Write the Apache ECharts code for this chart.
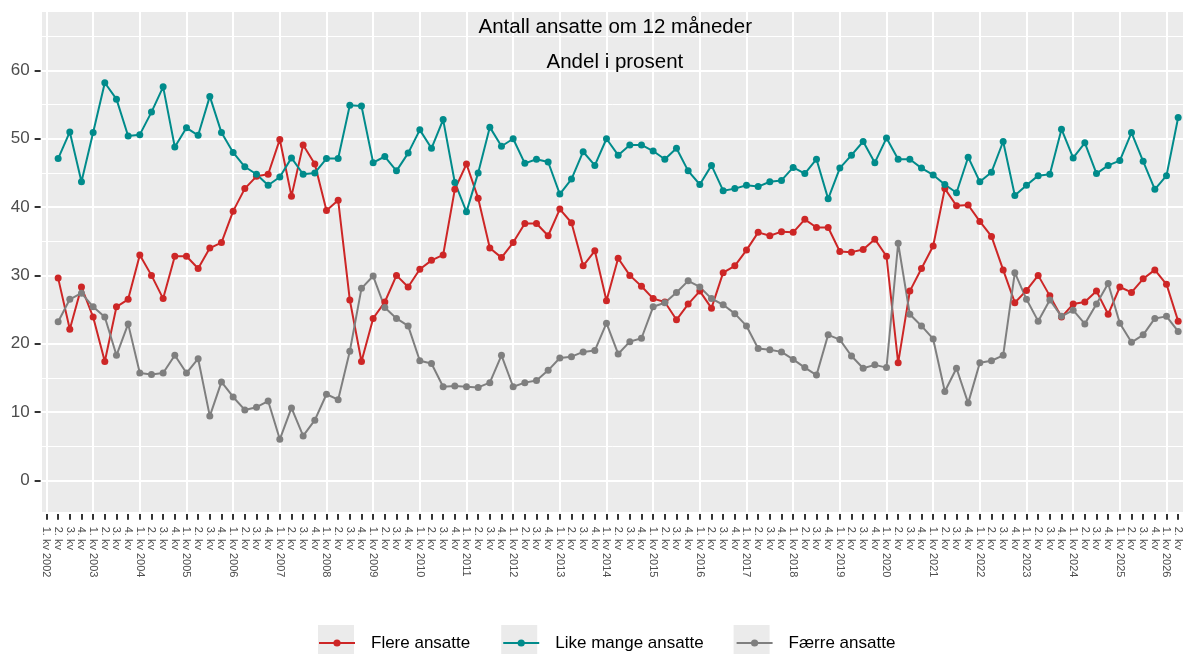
<!DOCTYPE html>
<html>
<head>
<meta charset="utf-8">
<title>Antall ansatte om 12 måneder</title>
<script src="https://cdn.jsdelivr.net/npm/echarts@6/dist/echarts.min.js"></script>
<style>
  html, body { margin: 0; padding: 0; background: #fff; }
  #chart { width: 1184px; height: 654px; }
</style>
</head>
<body>
<div id="chart"></div>
<script>
  // x-akse: 1. kv 2002 til 2. kv 2026
  var years = [2002, 2003, 2004, 2005, 2006, 2007, 2008, 2009, 2010, 2011, 2012, 2013,
               2014, 2015, 2016, 2017, 2018, 2019, 2020, 2021, 2022, 2023, 2024, 2025, 2026];
  var quarters = ['1. kv', '2. kv', '3. kv', '4. kv'];
  var lastQuarter = 2; // siste år slutter på 2. kv

  var categories = [];
  years.forEach(function (y, yi) {
    quarters.forEach(function (q, qi) {
      if (yi === years.length - 1 && qi >= lastQuarter) return;
      categories.push(qi === 0 ? q + ' ' + y : q);
    });
  });

  // y-akse ticks
  var yTicks = [0, 10, 20, 30, 40, 50, 60];

  // andel i prosent (første kvartal uten tall)
  var flere = [null,
    29.6, 22.1, 28.3, 23.9, 17.4, 25.4, 26.5, 33.0, 30.0, 26.6, 32.8, 32.8, 31.0, 34.0, 34.8, 39.4,
    42.7, 44.5, 44.8, 49.9, 41.6, 49.1, 46.3, 39.5, 41.0, 26.4, 17.4, 23.7, 26.1, 30.0, 28.3,
    30.9, 32.2, 33.0, 42.6, 46.3, 41.3, 34.0, 32.6, 34.8, 37.6, 37.6, 35.8, 39.7, 37.7, 31.4, 33.6,
    26.3, 32.5, 30.0, 28.4, 26.6, 26.1, 23.5, 25.8, 27.7, 25.2, 30.4, 31.4, 33.7, 36.3, 35.8, 36.4, 36.3,
    38.2, 37.0, 37.0, 33.5, 33.4, 33.8, 35.3, 32.8, 17.2, 27.7, 31.0, 34.3, 42.7, 40.2, 40.3, 37.9,
    35.7, 30.8, 26.0, 27.8, 30.0, 27.0, 23.9, 25.8, 26.1, 27.7, 24.3, 28.3, 27.5, 29.5, 30.8, 28.7, 23.3];

  var likeMange = [null,
    47.1, 51.0, 43.7, 50.9, 58.2, 55.8, 50.4, 50.6, 53.9, 57.6, 48.8, 51.6, 50.5, 56.2, 50.9, 48.0,
    45.9, 44.8, 43.2, 44.4, 47.2, 44.8, 45.0, 47.1, 47.1, 54.9, 54.8, 46.5, 47.4, 45.3, 47.9,
    51.3, 48.6, 52.8, 43.6, 39.3, 45.0, 51.7, 48.9, 50.0, 46.4, 47.0, 46.6, 41.9, 44.1, 48.1, 46.1,
    50.0, 47.6, 49.1, 49.1, 48.2, 47.0, 48.6, 45.3, 43.3, 46.1, 42.4, 42.7, 43.2, 43.0, 43.7, 43.9, 45.8,
    44.9, 47.0, 41.2, 45.7, 47.6, 49.6, 46.5, 50.1, 47.0, 47.0, 45.7, 44.7, 43.3, 42.1, 47.3, 43.7,
    45.1, 49.6, 41.7, 43.2, 44.6, 44.8, 51.4, 47.2, 49.4, 44.9, 46.1, 46.8, 50.9, 46.7, 42.6, 44.6, 53.1];

  var faerre = [null,
    23.2, 26.5, 27.4, 25.4, 23.9, 18.3, 22.9, 15.7, 15.5, 15.7, 18.3, 15.7, 17.8, 9.4, 14.4, 12.2,
    10.3, 10.7, 11.6, 6.0, 10.6, 6.5, 8.8, 12.6, 11.8, 18.9, 28.1, 29.9, 25.3, 23.7, 22.6,
    17.5, 17.1, 13.7, 13.8, 13.7, 13.6, 14.3, 18.3, 13.7, 14.3, 14.6, 16.1, 17.9, 18.1, 18.8, 19.0,
    23.0, 18.5, 20.3, 20.8, 25.4, 26.0, 27.5, 29.2, 28.3, 26.6, 25.7, 24.4, 22.6, 19.3, 19.1, 18.8, 17.7,
    16.5, 15.4, 21.3, 20.6, 18.2, 16.4, 16.9, 16.5, 34.7, 24.3, 22.6, 20.7, 13.0, 16.4, 11.3, 17.2,
    17.5, 18.3, 30.4, 26.5, 23.3, 26.4, 24.0, 24.9, 22.9, 25.8, 28.8, 23.0, 20.2, 21.3, 23.7, 24.0, 21.8];

  var seriesNames = ['Flere ansatte', 'Like mange ansatte', 'Færre ansatte'];
  var colors = ['#cd2626', '#008b8b', '#7f7f7f'];

  var panelBg = '#ebebeb';
  var fontFamily = '"Liberation Sans", Arial, sans-serif';

  // akseområde (ggplot-utvidelse)
  var yMin = -4.74, yMax = 68.7;
  var xMin = -0.5, xMax = categories.length - 0.5;

  function lineSeries(name, data, color) {
    return {
      name: name,
      type: 'line',
      xAxisIndex: 0,
      yAxisIndex: 0,
      data: data,
      symbol: 'circle',
      symbolSize: 7,
      showSymbol: true,
      lineStyle: { width: 2, color: color },
      itemStyle: { color: color },
      emphasis: { disabled: true },
      z: 5
    };
  }

  var chart = echarts.init(document.getElementById('chart'), null, { renderer: 'canvas' });

  var titleStyle = { fontSize: 20.5, fontWeight: 'normal', color: '#000', fontFamily: fontFamily };

  var option = {
    animation: false,
    textStyle: { fontFamily: fontFamily },
    // sentrert over panelet (ca. x = 615)
    title: [{
      text: 'Antall ansatte om 12 måneder',
      left: 478.5,
      top: 17,
      padding: 0,
      textStyle: titleStyle
    }, {
      text: 'Andel i prosent',
      left: 546.5,
      top: 52,
      padding: 0,
      textStyle: titleStyle
    }],
    // grå bokser bak legendsymbolene
    legend: [{
      data: seriesNames,
      left: 318,
      top: 625,
      padding: 0,
      itemWidth: 36,
      itemHeight: 36,
      itemGap: 32,
      icon: 'rect',
      selectedMode: false,
      itemStyle: { color: panelBg, borderWidth: 0 },
      textStyle: { fontSize: 17, color: 'rgba(0,0,0,0)', padding: [0, 0, 0, 11] }
    }, {
      data: seriesNames,
      left: 318,
      top: 634.5,
      padding: 0,
      itemWidth: 36,
      itemHeight: 9,
      itemGap: 32,
      selectedMode: false,
      textStyle: { fontSize: 17, color: '#000', padding: [0, 0, 0, 11] }
    }],
    grid: {
      left: 40.64,
      top: 11,
      width: 1148.6,
      height: 501.7,
      show: true,
      backgroundColor: panelBg,
      borderWidth: 0
    },
    xAxis: [{
      type: 'category',
      data: categories,
      boundaryGap: true,
      position: 'bottom',
      axisLine: { show: false, onZero: false },
      axisTick: {
        show: true,
        alignWithLabel: true,
        interval: 0,
        length: 7,
        lineStyle: { color: '#333', width: 2 }
      },
      axisLabel: {
        interval: 0,
        rotate: -90,
        margin: 14,
        fontSize: 11,
        color: '#4d4d4d',
        fontFamily: fontFamily
      },
      splitLine: { show: false }
    }, {
      // kun vertikale rutenettlinjer ved 1. kvartal
      type: 'value',
      min: xMin,
      max: xMax,
      minInterval: 4,
      maxInterval: 4,
      position: 'bottom',
      axisLine: { show: false, onZero: false },
      axisTick: { show: false },
      axisLabel: { show: false },
      splitLine: { show: true, lineStyle: { color: '#fff', width: 2 } }
    }],
    yAxis: [{
      type: 'value',
      min: yMin,
      max: yMax,
      minInterval: 10,
      maxInterval: 10,
      axisLine: { show: false, onZero: false },
      axisTick: { show: true, length: 6, lineStyle: { color: '#333', width: 2 } },
      axisLabel: {
        showMinLabel: false,
        showMaxLabel: false,
        margin: 11,
        fontSize: 17,
        color: '#4d4d4d',
        fontFamily: fontFamily,
        formatter: function (v) { return yTicks.indexOf(v) >= 0 ? String(v) : ''; }
      },
      splitLine: { show: true, lineStyle: { color: '#fff', width: 2 } },
      z: 3
    }, {
      // mindre rutenettlinjer
      type: 'value',
      min: yMin,
      max: yMax,
      minInterval: 5,
      maxInterval: 5,
      axisLine: { show: false, onZero: false },
      axisTick: { show: false },
      axisLabel: { show: false },
      splitLine: { show: true, lineStyle: { color: '#fff', width: 1 } },
      z: 2
    }],
    series: [
      lineSeries(seriesNames[0], flere, colors[0]),
      lineSeries(seriesNames[1], likeMange, colors[1]),
      lineSeries(seriesNames[2], faerre, colors[2])
    ]
  };

  chart.setOption(option);
</script>
</body>
</html>
